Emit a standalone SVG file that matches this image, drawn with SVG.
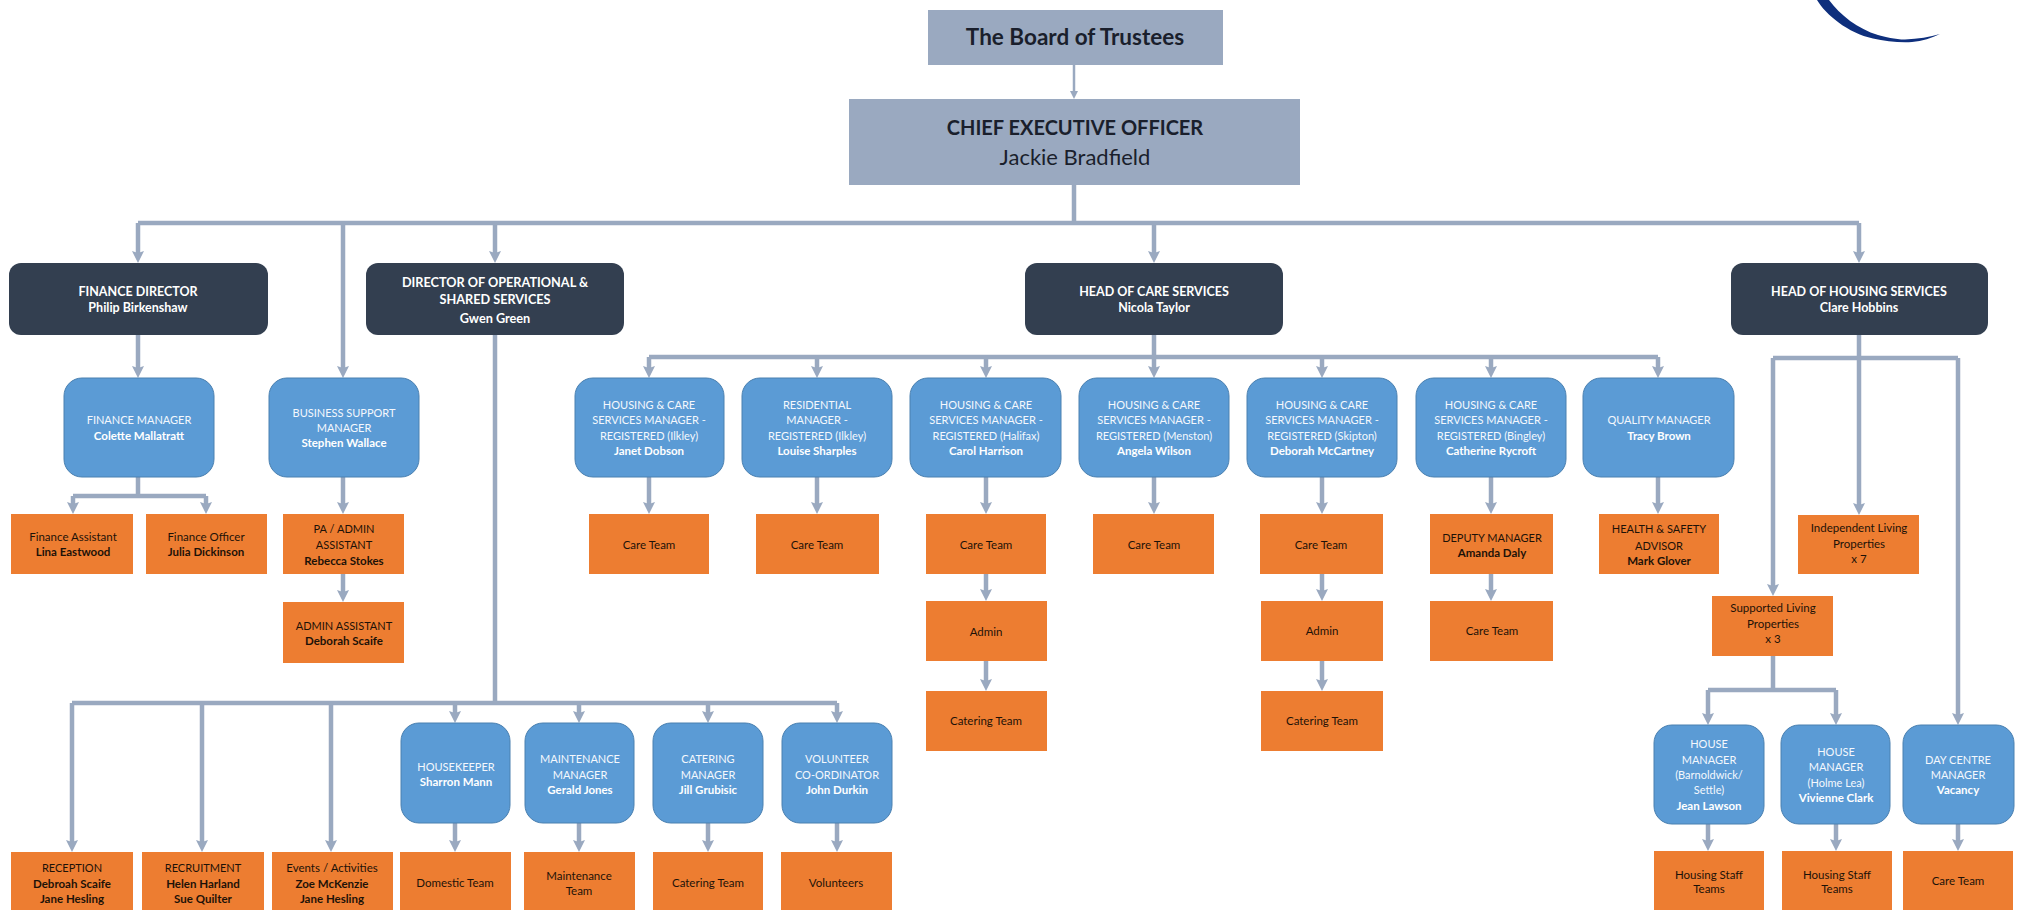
<svg xmlns="http://www.w3.org/2000/svg" width="2018" height="910" viewBox="0 0 2018 910">
<style>
text{font-family:"Lato","Carlito","Open Sans",sans-serif;text-anchor:middle}
.top{fill:#9aa9c0}
.dark{fill:#333f50}
.blue{fill:#5b9bd5;stroke:#4a80b0;stroke-width:1}
.org{fill:#ed7d31}
.t0{font-size:20px;fill:#1a1f2c;font-weight:700}
.t1{font-size:22.5px;fill:#1a1f2c;font-weight:700}
.t0r{font-size:22px;fill:#1a1f2c}
.d{font-size:12.5px;fill:#fff;font-weight:700}
.dl{font-size:12.7px;fill:#fff;font-weight:700}
.b{font-size:11px;fill:#f4f8fd}
.bb{font-size:11.5px;fill:#fff;font-weight:700}
.o{font-size:11.5px;fill:#1d1208}
.ou{font-size:11px;fill:#1d1208}
.ob{font-size:11.5px;fill:#1d1208;font-weight:700}
.c{fill:none;stroke:#9aa9c0;stroke-width:4.5}
.a{marker-end:url(#arr)}
.thin{stroke-width:2.5;fill:none;stroke:#9aa9c0;marker-end:url(#arrs)}
</style>
<defs>
<marker id="arr" markerUnits="userSpaceOnUse" markerWidth="14" markerHeight="14" refX="5" refY="7" orient="auto"><path d="M0 1L12 7L0 13L2 7Z" fill="#9aa9c0"/></marker>
<marker id="arrs" markerUnits="userSpaceOnUse" markerWidth="10" markerHeight="10" refX="3" refY="5" orient="auto"><path d="M0 1L8 5L0 9Z" fill="#9aa9c0"/></marker>
</defs>
<path id="logo-arc" d="M1817 0C1826 15 1848 33 1873 38.5C1885 41 1900 43 1912 42C1922 41 1932 38 1940 34C1930 37 1918 39 1905 39.5C1895 39.5 1885 37 1878 35C1858 29 1840 15 1829 0Z" fill="#0e2f7d"/>
<g id="connectors">
<path class="thin" d="M1074 65V94"/>
<path class="c" d="M1074 185V223M138 223H1859"/>
<path class="c a" d="M138 223V256"/>
<path class="c a" d="M343 223V371"/>
<path class="c a" d="M495 223V256"/>
<path class="c a" d="M1154 223V256"/>
<path class="c a" d="M1859 223V256"/>
<path class="c a" d="M138 335V371"/>
<path class="c" d="M138 477V496M73 496H206"/>
<path class="c a" d="M73 496V507"/>
<path class="c a" d="M206 496V507"/>
<path class="c a" d="M343 477V507"/>
<path class="c a" d="M343 574V595"/>
<path class="c" d="M495 335V703M72 703H837"/>
<path class="c a" d="M72 703V845"/>
<path class="c a" d="M202 703V845"/>
<path class="c a" d="M331 703V845"/>
<path class="c a" d="M455 703V716"/>
<path class="c a" d="M579 703V716"/>
<path class="c a" d="M708 703V716"/>
<path class="c a" d="M837 703V716"/>
<path class="c a" d="M455 823V845"/>
<path class="c a" d="M579 823V845"/>
<path class="c a" d="M708 823V845"/>
<path class="c a" d="M837 823V845"/>
<path class="c" d="M1154 335V357M649 357H1658"/>
<path class="c a" d="M649 357V371"/>
<path class="c a" d="M817 357V371"/>
<path class="c a" d="M986 357V371"/>
<path class="c a" d="M1154 357V371"/>
<path class="c a" d="M1322 357V371"/>
<path class="c a" d="M1491 357V371"/>
<path class="c a" d="M1658 357V371"/>
<path class="c a" d="M649 477V507"/>
<path class="c a" d="M817 477V507"/>
<path class="c a" d="M986 477V507"/>
<path class="c a" d="M1154 477V507"/>
<path class="c a" d="M1322 477V507"/>
<path class="c a" d="M1491 477V507"/>
<path class="c a" d="M1658 477V507"/>
<path class="c a" d="M986 574V594"/>
<path class="c a" d="M986 661V684"/>
<path class="c a" d="M1322 574V594"/>
<path class="c a" d="M1322 661V684"/>
<path class="c a" d="M1491 574V594"/>
<path class="c" d="M1859 335V358M1773 358H1958"/>
<path class="c a" d="M1859 358V508"/>
<path class="c a" d="M1773 358V589"/>
<path class="c a" d="M1958 358V718"/>
<path class="c" d="M1773 656V690M1708 690H1836"/>
<path class="c a" d="M1708 690V718"/>
<path class="c a" d="M1836 690V718"/>
<path class="c a" d="M1708 824V844"/>
<path class="c a" d="M1836 824V844"/>
<path class="c a" d="M1958 824V844"/>
</g>
<g id="board"><rect class="top" x="928" y="10" width="295" height="55"/><text class="t1" x="1075" y="45">The Board of Trustees</text></g>
<g id="ceo"><rect class="top" x="849" y="99" width="451" height="86"/><text class="t0" x="1075" y="135">CHIEF EXECUTIVE OFFICER</text><text class="t0r" x="1075" y="165">Jackie Bradfield</text></g>
<g id="finance-director"><rect class="dark" x="9" y="263" width="259" height="72" rx="12"/><text class="d" x="138" y="296">FINANCE DIRECTOR</text><text class="d" x="138" y="312">Philip Birkenshaw</text></g>
<g id="director-ops"><rect class="dark" x="366" y="263" width="258" height="72" rx="12"/><text class="dl" x="495" y="287">DIRECTOR OF OPERATIONAL &amp;</text><text class="dl" x="495" y="304">SHARED SERVICES</text><text class="dl" x="495" y="323">Gwen Green</text></g>
<g id="head-care"><rect class="dark" x="1025" y="263" width="258" height="72" rx="12"/><text class="d" x="1154" y="296">HEAD OF CARE SERVICES</text><text class="d" x="1154" y="312">Nicola Taylor</text></g>
<g id="head-housing"><rect class="dark" x="1731" y="263" width="257" height="72" rx="12"/><text class="d" x="1859" y="296">HEAD OF HOUSING SERVICES</text><text class="d" x="1859" y="312">Clare Hobbins</text></g>
<g id="finance-manager"><rect class="blue" x="64" y="378" width="150" height="99" rx="18"/><text class="b" x="139" y="424">FINANCE MANAGER</text><text class="bb" x="139" y="440">Colette Mallatratt</text></g>
<g id="business-support"><rect class="blue" x="269" y="378" width="150" height="99" rx="18"/><text class="b" x="344" y="417">BUSINESS SUPPORT</text><text class="b" x="344" y="432">MANAGER</text><text class="bb" x="344" y="447">Stephen Wallace</text></g>
<g id="finance-assistant"><rect class="org" x="11" y="514" width="122" height="60"/><text class="o" x="73" y="541">Finance Assistant</text><text class="ob" x="73" y="556">Lina Eastwood</text></g>
<g id="finance-officer"><rect class="org" x="146" y="514" width="121" height="60"/><text class="o" x="206" y="541">Finance Officer</text><text class="ob" x="206" y="556">Julia Dickinson</text></g>
<g id="pa-admin"><rect class="org" x="283" y="514" width="121" height="60"/><text class="ou" x="344" y="533">PA / ADMIN</text><text class="ou" x="344" y="549">ASSISTANT</text><text class="ob" x="344" y="565">Rebecca Stokes</text></g>
<g id="admin-assistant"><rect class="org" x="283" y="602" width="121" height="61"/><text class="ou" x="344" y="630">ADMIN ASSISTANT</text><text class="ob" x="344" y="645">Deborah Scaife</text></g>
<g id="hc-ilkley"><rect class="blue" x="575" y="378" width="149" height="99" rx="18"/><text class="b" x="649" y="409">HOUSING &amp; CARE</text><text class="b" x="649" y="424">SERVICES MANAGER -</text><text class="b" x="649" y="440">REGISTERED (Ilkley)</text><text class="bb" x="649" y="455">Janet Dobson</text></g>
<g id="res-ilkley"><rect class="blue" x="742" y="378" width="150" height="99" rx="18"/><text class="b" x="817" y="409">RESIDENTIAL</text><text class="b" x="817" y="424">MANAGER -</text><text class="b" x="817" y="440">REGISTERED (Ilkley)</text><text class="bb" x="817" y="455">Louise Sharples</text></g>
<g id="hc-halifax"><rect class="blue" x="910" y="378" width="151" height="99" rx="18"/><text class="b" x="986" y="409">HOUSING &amp; CARE</text><text class="b" x="986" y="424">SERVICES MANAGER -</text><text class="b" x="986" y="440">REGISTERED (Halifax)</text><text class="bb" x="986" y="455">Carol Harrison</text></g>
<g id="hc-menston"><rect class="blue" x="1079" y="378" width="150" height="99" rx="18"/><text class="b" x="1154" y="409">HOUSING &amp; CARE</text><text class="b" x="1154" y="424">SERVICES MANAGER -</text><text class="b" x="1154" y="440">REGISTERED (Menston)</text><text class="bb" x="1154" y="455">Angela Wilson</text></g>
<g id="hc-skipton"><rect class="blue" x="1247" y="378" width="150" height="99" rx="18"/><text class="b" x="1322" y="409">HOUSING &amp; CARE</text><text class="b" x="1322" y="424">SERVICES MANAGER -</text><text class="b" x="1322" y="440">REGISTERED (Skipton)</text><text class="bb" x="1322" y="455">Deborah McCartney</text></g>
<g id="hc-bingley"><rect class="blue" x="1416" y="378" width="150" height="99" rx="18"/><text class="b" x="1491" y="409">HOUSING &amp; CARE</text><text class="b" x="1491" y="424">SERVICES MANAGER -</text><text class="b" x="1491" y="440">REGISTERED (Bingley)</text><text class="bb" x="1491" y="455">Catherine Rycroft</text></g>
<g id="quality"><rect class="blue" x="1583" y="378" width="151" height="99" rx="18"/><text class="b" x="1659" y="424">QUALITY MANAGER</text><text class="bb" x="1659" y="440">Tracy Brown</text></g>
<g id="care-1"><rect class="org" x="589" y="514" width="120" height="60"/><text class="o" x="649" y="549">Care Team</text></g>
<g id="care-2"><rect class="org" x="756" y="514" width="123" height="60"/><text class="o" x="817" y="549">Care Team</text></g>
<g id="care-3"><rect class="org" x="926" y="514" width="120" height="60"/><text class="o" x="986" y="549">Care Team</text></g>
<g id="admin-3"><rect class="org" x="926" y="601" width="121" height="60"/><text class="o" x="986" y="636">Admin</text></g>
<g id="catering-3"><rect class="org" x="926" y="691" width="121" height="60"/><text class="o" x="986" y="725">Catering Team</text></g>
<g id="care-4"><rect class="org" x="1093" y="514" width="121" height="60"/><text class="o" x="1154" y="549">Care Team</text></g>
<g id="care-5"><rect class="org" x="1260" y="514" width="123" height="60"/><text class="o" x="1321" y="549">Care Team</text></g>
<g id="admin-5"><rect class="org" x="1261" y="601" width="122" height="60"/><text class="o" x="1322" y="635">Admin</text></g>
<g id="catering-5"><rect class="org" x="1261" y="691" width="122" height="60"/><text class="o" x="1322" y="725">Catering Team</text></g>
<g id="deputy"><rect class="org" x="1430" y="514" width="123" height="60"/><text class="ou" x="1492" y="542">DEPUTY MANAGER</text><text class="ob" x="1492" y="557">Amanda Daly</text></g>
<g id="care-6"><rect class="org" x="1430" y="601" width="123" height="60"/><text class="o" x="1492" y="635">Care Team</text></g>
<g id="health-safety"><rect class="org" x="1599" y="514" width="120" height="60"/><text class="ou" x="1659" y="533">HEALTH &amp; SAFETY</text><text class="ou" x="1659" y="550">ADVISOR</text><text class="ob" x="1659" y="565">Mark Glover</text></g>
<g id="independent"><rect class="org" x="1798" y="515" width="121" height="59"/><text class="o" x="1859" y="532">Independent Living</text><text class="o" x="1859" y="548">Properties</text><text class="o" x="1859" y="563">x 7</text></g>
<g id="supported"><rect class="org" x="1712" y="596" width="121" height="60"/><text class="o" x="1773" y="612">Supported Living</text><text class="o" x="1773" y="628">Properties</text><text class="o" x="1773" y="643">x 3</text></g>
<g id="house-1"><rect class="blue" x="1654" y="725" width="110" height="99" rx="18"/><text class="b" x="1709" y="748">HOUSE</text><text class="b" x="1709" y="764">MANAGER</text><text class="b" x="1709" y="779">(Barnoldwick/</text><text class="b" x="1709" y="794">Settle)</text><text class="bb" x="1709" y="810">Jean Lawson</text></g>
<g id="house-2"><rect class="blue" x="1781" y="725" width="109" height="99" rx="18"/><text class="b" x="1836" y="756">HOUSE</text><text class="b" x="1836" y="771">MANAGER</text><text class="b" x="1836" y="787">(Holme Lea)</text><text class="bb" x="1836" y="802">Vivienne Clark</text></g>
<g id="day-centre"><rect class="blue" x="1903" y="725" width="111" height="99" rx="18"/><text class="b" x="1958" y="764">DAY CENTRE</text><text class="b" x="1958" y="779">MANAGER</text><text class="bb" x="1958" y="794">Vacancy</text></g>
<g id="housing-1"><rect class="org" x="1654" y="851" width="110" height="59"/><text class="o" x="1709" y="879">Housing Staff</text><text class="o" x="1709" y="893">Teams</text></g>
<g id="housing-2"><rect class="org" x="1782" y="851" width="110" height="59"/><text class="o" x="1837" y="879">Housing Staff</text><text class="o" x="1837" y="893">Teams</text></g>
<g id="care-7"><rect class="org" x="1903" y="851" width="110" height="59"/><text class="o" x="1958" y="885">Care Team</text></g>
<g id="housekeeper"><rect class="blue" x="401" y="723" width="109" height="100" rx="18"/><text class="b" x="456" y="771">HOUSEKEEPER</text><text class="bb" x="456" y="786">Sharron Mann</text></g>
<g id="maintenance"><rect class="blue" x="525" y="723" width="109" height="100" rx="18"/><text class="b" x="580" y="763">MAINTENANCE</text><text class="b" x="580" y="779">MANAGER</text><text class="bb" x="580" y="794">Gerald Jones</text></g>
<g id="catering"><rect class="blue" x="653" y="723" width="110" height="100" rx="18"/><text class="b" x="708" y="763">CATERING</text><text class="b" x="708" y="779">MANAGER</text><text class="bb" x="708" y="794">Jill Grubisic</text></g>
<g id="volunteer"><rect class="blue" x="782" y="723" width="110" height="100" rx="18"/><text class="b" x="837" y="763">VOLUNTEER</text><text class="b" x="837" y="779">CO-ORDINATOR</text><text class="bb" x="837" y="794">John Durkin</text></g>
<g id="reception"><rect class="org" x="11" y="852" width="122" height="58"/><text class="ou" x="72" y="872">RECEPTION</text><text class="ob" x="72" y="888">Debroah Scaife</text><text class="ob" x="72" y="903">Jane Hesling</text></g>
<g id="recruitment"><rect class="org" x="142" y="852" width="122" height="58"/><text class="ou" x="203" y="872">RECRUITMENT</text><text class="ob" x="203" y="888">Helen Harland</text><text class="ob" x="203" y="903">Sue Quilter</text></g>
<g id="events"><rect class="org" x="272" y="852" width="121" height="58"/><text class="o" x="332" y="872">Events / Activities</text><text class="ob" x="332" y="888">Zoe McKenzie</text><text class="ob" x="332" y="903">Jane Hesling</text></g>
<g id="domestic"><rect class="org" x="400" y="852" width="111" height="58"/><text class="o" x="455" y="887">Domestic Team</text></g>
<g id="maintenance-team"><rect class="org" x="524" y="852" width="111" height="58"/><text class="o" x="579" y="880">Maintenance</text><text class="o" x="579" y="895">Team</text></g>
<g id="catering-team"><rect class="org" x="653" y="852" width="110" height="58"/><text class="o" x="708" y="887">Catering Team</text></g>
<g id="volunteers"><rect class="org" x="781" y="852" width="111" height="58"/><text class="o" x="836" y="887">Volunteers</text></g>
</svg>
